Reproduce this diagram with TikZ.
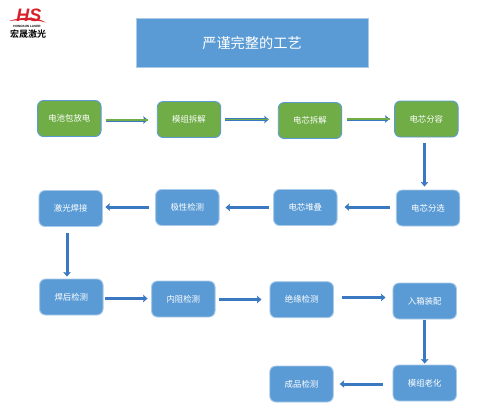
\documentclass[tikz,border=0pt]{standalone}
\usepackage{fontspec}
\setmainfont{Liberation Sans}
\newfontfamily\cjk{Noto Sans CJK SC}
\newfontfamily\cjkb{Noto Sans CJK SC Bold}
\usetikzlibrary{arrows.meta,calc}
\definecolor{boxblue}{HTML}{5B9BD5}
\definecolor{boxgreen}{HTML}{70AD47}
\definecolor{edgeblue}{HTML}{A9CBE9}
\definecolor{arrblue}{HTML}{3B78C2}
\definecolor{logored}{HTML}{D8202C}
\tikzset{
  x=1bp,y=-1bp,
  flow/.style={rounded corners=6bp,minimum width=63.5bp,minimum height=36bp,inner sep=0pt,
    fill=boxblue,draw=edgeblue,line width=0.9bp,text=white,font=\cjk\fontsize{8.4bp}{10bp}\selectfont},
  flowg/.style={flow,fill=boxgreen,draw=boxblue},
  arr/.style={draw=arrblue,line width=3bp,-{Stealth[length=4.5bp,width=7.5bp,inset=0.8bp]}},
  arrg/.style={arr,postaction={draw=boxgreen,line width=1.4bp,-}},
}
\begin{document}
\begin{tikzpicture}
\useasboundingbox (0,0) rectangle (500,414);
\fill[white] (0,0) rectangle (500,414);
% logo
\node[inner sep=0pt,text=logored,font=\bfseries\itshape\fontsize{18bp}{18bp}\selectfont] (hs) at (29,14.8) {HS};
\fill[logored] (9,21) .. controls (22,16.5) and (36,16.5) .. (46,22.5) .. controls (36,19.5) and (22,19.5) .. (9,21) -- cycle;
\node[inner sep=0pt,font=\bfseries\fontsize{3.1bp}{3.2bp}\selectfont] (en) at (27,26) {HONGSUN LASER};
\node[inner sep=0pt,font=\cjkb\fontsize{9bp}{10bp}\selectfont] (cn) at (28,34) {宏晟激光};
% title
\node[rectangle,minimum width=232bp,minimum height=48.5bp,inner sep=0pt,fill=boxblue,draw=edgeblue,line width=0.9bp,text=white,font=\cjk\fontsize{14.2bp}{16bp}\selectfont] (title) at (252,43) {严谨完整的工艺};
% row 1
\node[flowg] (a1) at (69.3,118.5) {电池包放电};
\node[flowg] (a2) at (189,119.5) {模组拆解};
\node[flowg] (a3) at (310,120.5) {电芯拆解};
\node[flowg] (a4) at (426.3,119) {电芯分容};
% row 2
\node[flow] (b1) at (70.7,208.5) {激光焊接};
\node[flow] (b2) at (187.3,207.5) {极性检测};
\node[flow] (b3) at (305.3,207.5) {电芯堆叠};
\node[flow] (b4) at (428,208) {电芯分选};
% row 3
\node[flow] (c1) at (71.3,297) {焊后检测};
\node[flow] (c2) at (183.3,299) {内阻检测};
\node[flow] (c3) at (301.7,299.7) {绝缘检测};
\node[flow] (c4) at (424.7,301) {入箱装配};
% row 4
\node[flow] (d3) at (301.5,384) {成品检测};
\node[flow] (d4) at (424.7,383) {模组老化};
% connectors
\draw[arrg,shorten <=4bp,shorten >=9bp] ([yshift=-1.5bp]a1.east) -- ([yshift=-1.5bp]a1.east -| a2.west);
\draw[arrg,shorten <=4bp,shorten >=9bp] (a2.east) -- (a2.east -| a3.west);
\draw[arrg,shorten <=5bp,shorten >=4.5bp] ([yshift=1.5bp]a3.east) -- ([yshift=1.5bp]a3.east -| a4.west);
\draw[arr,shorten <=6bp,shorten >=3bp] ([xshift=-1.8bp]a4.south) -- ([xshift=-1.8bp]a4.south |- b4.north);
\draw[arr,shorten <=6bp,shorten >=7bp] ([yshift=1bp]b4.west) -- ([yshift=1bp]b4.west -| b3.east);
\draw[arr,shorten <=4.5bp,shorten >=6bp] (b3.west) -- (b3.west -| b2.east);
\draw[arr,shorten <=6bp,shorten >=2.5bp] ([yshift=.5bp]b2.west) -- ([yshift=.5bp]b2.west -| b1.east);
\draw[arr,shorten <=6.5bp,shorten >=2bp] ([xshift=-3.7bp]b1.south) -- ([xshift=-3.7bp]b1.south |- c1.north);
\draw[arr,shorten <=1bp,shorten >=3.5bp] ([yshift=-1.5bp]c1.east) -- ([yshift=-1.5bp]c1.east -| c2.west);
\draw[arr,shorten <=3.5bp,shorten >=8bp] ([yshift=-.5bp]c2.east) -- ([yshift=-.5bp]c2.east -| c3.west);
\draw[arr,shorten <=8.5bp,shorten >=7bp] ([yshift=2.2bp]c3.east) -- ([yshift=2.2bp]c3.east -| c4.west);
\draw[arr,shorten <=1bp,shorten >=1bp] (c4.south) -- (c4.south |- d4.north);
\draw[arr,shorten <=10bp,shorten >=6bp] ([yshift=-1bp]d4.west) -- ([yshift=-1bp]d4.west -| d3.east);
\end{tikzpicture}
\end{document}
